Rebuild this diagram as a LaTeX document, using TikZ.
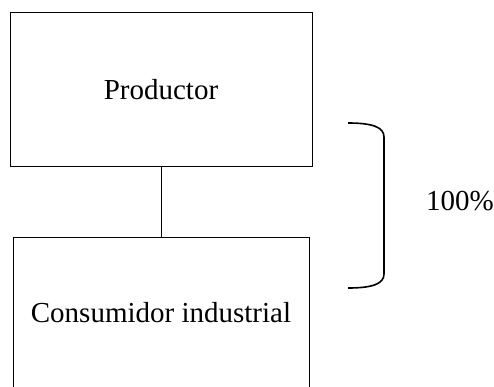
\documentclass[tikz,border=0pt]{standalone}
\usepackage{fontspec}
\setmainfont{Liberation Serif}
\usetikzlibrary{positioning}

\tikzset{
	caja/.style={draw, line width=1pt, inner sep=0pt, font=\fontsize{29}{34}\selectfont},
	etiqueta/.style={inner sep=0pt, font=\fontsize{29}{34}\selectfont}
}

\begin{document}
\begin{tikzpicture}[x=1pt,y=-1pt]
		\clip (0,0) rectangle (494,387);
		\node [caja, minimum width=302pt, minimum height=154pt] (productor) at (161,90) {Productor};
		\node [caja, minimum width=296pt, minimum height=152pt] (consumidor) at (161,313) {Consumidor industrial};
		\draw [line width=1pt] (productor.south) -- (consumidor.north);
		\coordinate (llave arriba) at (348,123);
		\coordinate (llave abajo) at (348,288);
		\draw [line width=1.6pt] (llave arriba) .. controls (372,123) and (384,127) .. (384,137) -- (384,274) .. controls (384,284) and (372,288) .. (llave abajo);
		\node [etiqueta] (porcentaje) at (460,201) {100\%};
	\end{tikzpicture}
\end{document}
